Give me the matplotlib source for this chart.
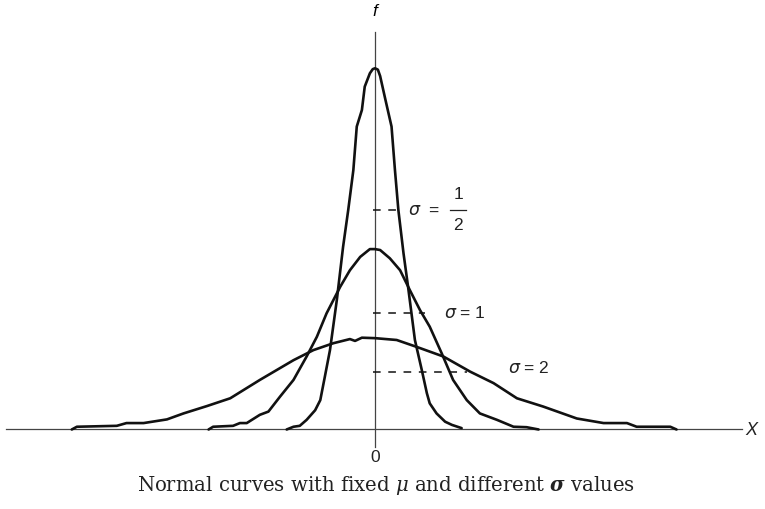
import matplotlib.pyplot as plt

# traced points of the three normal curves (mu fixed at 0)
x_half = [-1.55, -1.43, -1.32, -1.20, -1.05, -0.96, -0.88, -0.79, -0.67, -0.56, -0.47,
          -0.38, -0.32, -0.23, -0.18, -0.09, -0.04, 0.00, 0.05, 0.09, 0.18, 0.29, 0.35,
          0.41, 0.50, 0.58, 0.70, 0.82, 0.91, 0.96, 1.08, 1.23, 1.35, 1.52]
f_half = [0.000, 0.006, 0.008, 0.021, 0.042, 0.064, 0.115, 0.173, 0.282, 0.398, 0.478,
          0.565, 0.660, 0.696, 0.747, 0.776, 0.785, 0.787, 0.784, 0.770, 0.720, 0.660,
          0.565, 0.478, 0.384, 0.311, 0.195, 0.130, 0.079, 0.057, 0.035, 0.017, 0.010,
          0.003]

x_one = [-2.92, -2.84, -2.49, -2.37, -2.25, -2.02, -1.87, -1.67, -1.43, -1.20, -1.02,
         -0.85, -0.61, -0.44, -0.26, -0.09, 0.00, 0.09, 0.26, 0.44, 0.61, 0.79, 0.96,
         1.17, 1.37, 1.61, 1.84, 2.14, 2.43, 2.66, 2.87]
f_one = [0.000, 0.006, 0.008, 0.014, 0.014, 0.032, 0.039, 0.071, 0.108, 0.159, 0.202,
         0.253, 0.311, 0.347, 0.376, 0.393, 0.393, 0.391, 0.373, 0.347, 0.304, 0.260,
         0.224, 0.166, 0.108, 0.064, 0.035, 0.021, 0.006, 0.005, 0.000]

x_two = [-5.32, -5.23, -4.53, -4.36, -4.06, -3.65, -3.36, -2.95, -2.54, -2.02, -1.43,
         -1.08, -0.73, -0.44, -0.35, -0.23, 0.00, 0.38, 0.73, 1.20, 1.67, 2.08, 2.49,
         2.95, 3.54, 4.01, 4.42, 4.59, 5.18, 5.29]
f_two = [0.000, 0.006, 0.008, 0.014, 0.014, 0.022, 0.035, 0.051, 0.068, 0.108, 0.151,
         0.173, 0.188, 0.197, 0.193, 0.200, 0.199, 0.195, 0.180, 0.159, 0.126, 0.101,
         0.068, 0.050, 0.024, 0.014, 0.014, 0.006, 0.006, 0.000]

# dashed markers: height and right end for each sigma
mark_f = [0.478, 0.254, 0.125]
mark_x = [0.40, 0.88, 1.61]

plt.rcParams['mathtext.fontset'] = 'dejavusans'

fig = plt.figure(figsize=(7.65, 5.09), dpi=100)
ax = fig.add_axes([0, 0, 1, 1])
ax.set_xlim(-6.579, 6.842)
ax.set_ylim(-0.1732, 0.9357)
ax.axis('off')

# axes through the origin
ax.plot([-6.47, 6.44], [0, 0], color='#444444', lw=0.9)
ax.plot([0, 0], [-0.038, 0.866], color='#444444', lw=0.9)

for xs, fs in [(x_half, f_half), (x_one, f_one), (x_two, f_two)]:
    ax.plot(xs, fs, color='#111111', lw=1.9, solid_joinstyle='round',
            solid_capstyle='round')

for fy, xe in zip(mark_f, mark_x):
    ax.plot([-0.035, xe], [fy, fy], color='#111111', lw=1.1, dashes=(5, 5))

lab = dict(fontsize=12.5, family='Liberation Sans', color='#222222', va='center')
ax.text(0.58, mark_f[0], r'$\sigma$  =', **lab)
ax.text(1.46, mark_f[0] + 0.033, '1', ha='center', **lab)
ax.plot([1.32, 1.6], [mark_f[0], mark_f[0]], color='#222222', lw=0.9)
ax.text(1.46, mark_f[0] - 0.033, '2', ha='center', **lab)
ax.text(1.21, mark_f[1], r'$\sigma$ = 1', **lab)
ax.text(2.34, mark_f[2] + 0.01, r'$\sigma$ = 2', **lab)

ax.text(0, -0.062, '0', ha='center', **lab)
ax.text(0, 0.91, 'f', ha='center', fontsize=12.5, family='Liberation Sans',
        style='italic', va='center')
ax.text(6.6, -0.003, 'X', ha='center', fontsize=13, family='Liberation Sans',
        style='italic', va='center', color='#222222')

ax.text(0.2, -0.121, r'Normal curves with fixed $\mu$ and different $\boldsymbol{\sigma}$ values',
        ha='center', va='center', fontsize=14.1, family='DejaVu Serif', color='#222222',
        math_fontfamily='dejavuserif')

fig.savefig('out.png', dpi=100)
